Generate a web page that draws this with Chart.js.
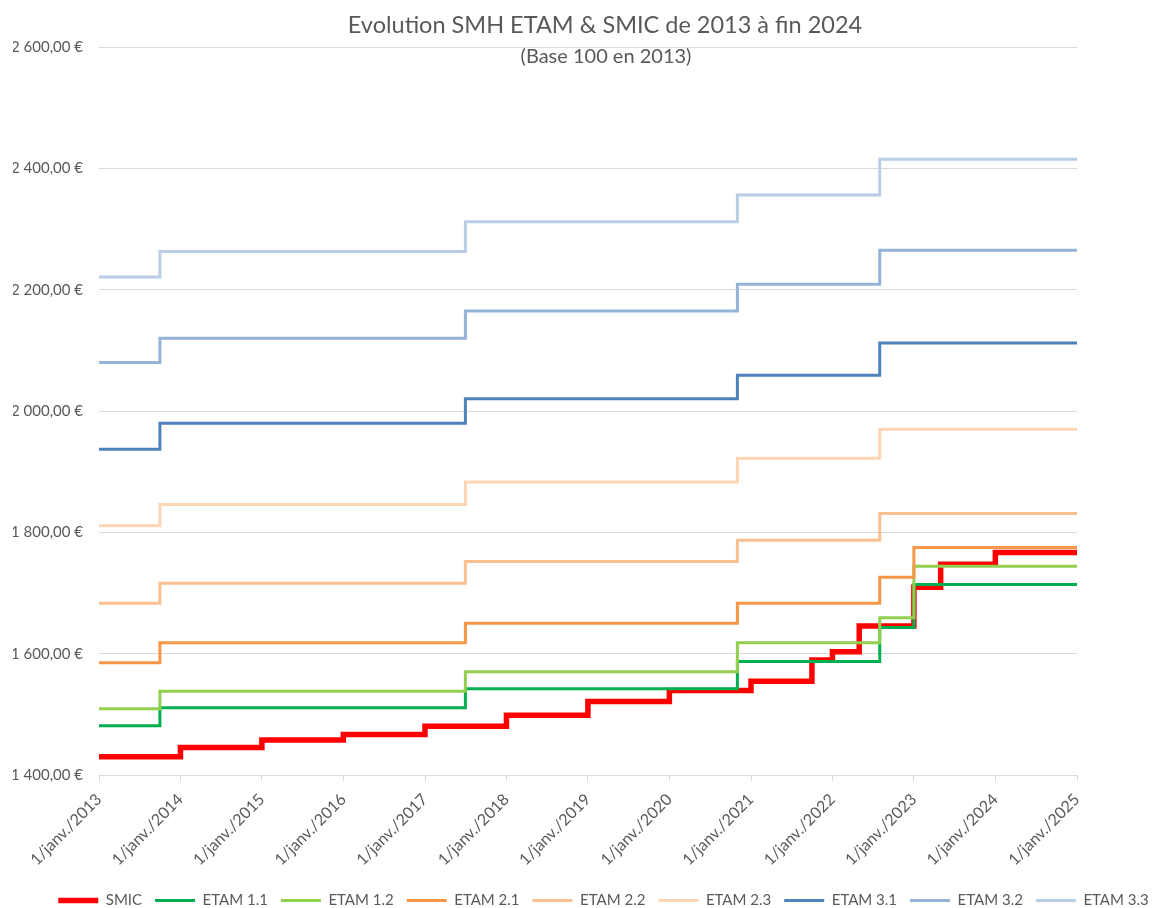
<!DOCTYPE html>
<html>
<head>
<meta charset="utf-8">
<script src="https://cdn.jsdelivr.net/npm/chart.js@4.4.1/dist/chart.umd.min.js"></script>
<style>
  html, body { margin: 0; padding: 0; background: #fff; }
  #wrap { width: 1152px; height: 908px; }
</style>
</head>
<body>
<div id="wrap"><canvas id="chart"></canvas></div>
<script>
// x tick labels: 1er janvier de chaque année
const years = [2013, 2014, 2015, 2016, 2017, 2018, 2019, 2020, 2021, 2022, 2023, 2024, 2025];

// SMIC mensuel brut
const smicDates = ['2013-01-01', '2014-01-01', '2015-01-01', '2016-01-01', '2017-01-01', '2018-01-01',
  '2019-01-01', '2020-01-01', '2021-01-01', '2021-10-01', '2022-01-01', '2022-05-01',
  '2023-01-01', '2023-05-01', '2024-01-01', '2025-01-01'];
const smic = [1430.22, 1445.38, 1457.52, 1466.62, 1480.27, 1498.47, 1521.22, 1539.42,
  1554.58, 1589.47, 1603.12, 1645.58, 1709.28, 1747.20, 1766.92, 1766.92];

// SMH ETAM (dates des revalorisations)
const etamDates = ['2013-01-01', '2013-10-01', '2017-07-01', '2020-11-01', '2022-08-01', '2023-01-01', '2025-01-01'];
const etam11 = [1481, 1511, 1542, 1587, 1643, 1714, 1714];
const etam12 = [1509, 1538, 1570, 1618, 1659, 1744, 1744];
const etam21 = [1585, 1618, 1650, 1683, 1726, 1775, 1775];
const etam22 = [1683, 1716, 1752, 1787, 1831, 1831, 1831];
const etam23 = [1811, 1846, 1883, 1922, 1970, 1970, 1970];
const etam31 = [1937, 1980, 2020, 2059, 2112, 2112, 2112];
const etam32 = [2080, 2120, 2165, 2209, 2265, 2265, 2265];
const etam33 = [2221, 2263, 2312, 2356, 2415, 2415, 2415];

const seriesNames = ['SMIC', 'ETAM 1.1', 'ETAM 1.2', 'ETAM 2.1', 'ETAM 2.2', 'ETAM 2.3', 'ETAM 3.1', 'ETAM 3.2', 'ETAM 3.3'];
const seriesValues = [smic, etam11, etam12, etam21, etam22, etam23, etam31, etam32, etam33];
const colors = ['#FF0000', '#00B050', '#92D050', '#F79646', '#FAC090', '#FCD5B4', '#4F81BD', '#95B3D7', '#B9CDE5'];

const FONT = 'Lato, "Open Sans", sans-serif';
const GREY = '#595959';

function toPoints(dates, values) {
  return dates.map((d, i) => ({x: Date.parse(d), y: values[i]}));
}

function euro(v) {
  const th = Math.floor(v / 1000);
  const rest = String(v % 1000).padStart(3, '0');
  return (th > 0 ? th + ' ' + rest : String(v)) + ',00 €';
}

const datasets = seriesNames.map((name, i) => ({
  label: name,
  data: toPoints(i === 0 ? smicDates : etamDates, seriesValues[i]),
  borderColor: colors[i],
  backgroundColor: colors[i],
  borderWidth: i === 0 ? 5.5 : 3,
  stepped: true,
  pointRadius: 0,
  pointHoverRadius: 0,
  fill: false,
  borderCapStyle: 'butt',
  borderJoinStyle: 'miter',
  order: seriesNames.length - i   // SMIC en dessous, comme dans Excel
}));

// titre posé sur la zone de tracé (comme Excel)
const titlePlugin = {
  id: 'excelTitle',
  afterDraw(chart) {
    const ctx = chart.ctx;
    ctx.save();
    ctx.fillStyle = GREY;
    ctx.textAlign = 'center';
    ctx.textBaseline = 'middle';
    ctx.font = '23.5px ' + FONT;
    ctx.fillText('Evolution SMH ETAM & SMIC de 2013 à fin 2024', 605, 25);
    ctx.font = '20px ' + FONT;
    ctx.fillText('(Base 100 en 2013)', 606, 57);
    ctx.restore();
  }
};

// décale la légende comme dans l'original
const shiftLegend = {
  id: 'shiftLegend',
  afterLayout(chart) {
    const lg = chart.legend;
    if (lg) {
      lg.left += 21;
      lg.right += 21;
      lg.top += 10;
      lg.bottom += 10;
    }
  }
};

new Chart(document.getElementById('chart'), {
  type: 'line',
  data: {datasets: datasets},
  plugins: [titlePlugin, shiftLegend],
  options: {
    responsive: true,
    maintainAspectRatio: false,
    animation: false,
    layout: {padding: {top: 47, left: 13, right: 0, bottom: 0}},
    plugins: {
      title: {display: false},
      tooltip: {enabled: false},
      legend: {
        position: 'bottom',
        labels: {
          usePointStyle: true,
          pointStyle: 'line',
          pointStyleWidth: 40,
          padding: 13,
          color: GREY,
          font: {family: FONT, size: 15},
          sort: (a, b) => a.datasetIndex - b.datasetIndex
        }
      }
    },
    scales: {
      x: {
        type: 'linear',
        min: Date.UTC(2013, 0, 1),
        max: Date.UTC(2025, 0, 1),
        afterBuildTicks: (axis) => {
          axis.ticks = years.map(y => ({value: Date.UTC(y, 0, 1)}));
        },
        afterFit: (scale) => {
          scale.paddingLeft = 0;
          scale.paddingRight = 0;
          scale.height = 95;
        },
        ticks: {
          autoSkip: false,
          maxRotation: 45,
          minRotation: 45,
          padding: 9,
          color: GREY,
          font: {family: FONT, size: 16},
          callback: (v) => '1/janv./' + new Date(v).getUTCFullYear()
        },
        grid: {drawOnChartArea: false, color: '#d9d9d9', tickLength: 6},
        border: {color: '#d9d9d9'}
      },
      y: {
        min: 1400,
        max: 2600,
        afterFit: (scale) => { scale.width = 86; },
        ticks: {
          stepSize: 200,
          padding: 16,
          color: GREY,
          font: {family: FONT, size: 15},
          callback: (v) => euro(v)
        },
        grid: {color: '#d9d9d9', drawTicks: false},
        border: {display: false}
      },
      // axe vide à droite : marge sans réduire la légende
      yRight: {
        position: 'right',
        min: 1400,
        max: 2600,
        ticks: {display: false},
        grid: {display: false},
        border: {display: false},
        afterFit: (scale) => { scale.width = 75; }
      }
    }
  }
});
</script>
</body>
</html>
